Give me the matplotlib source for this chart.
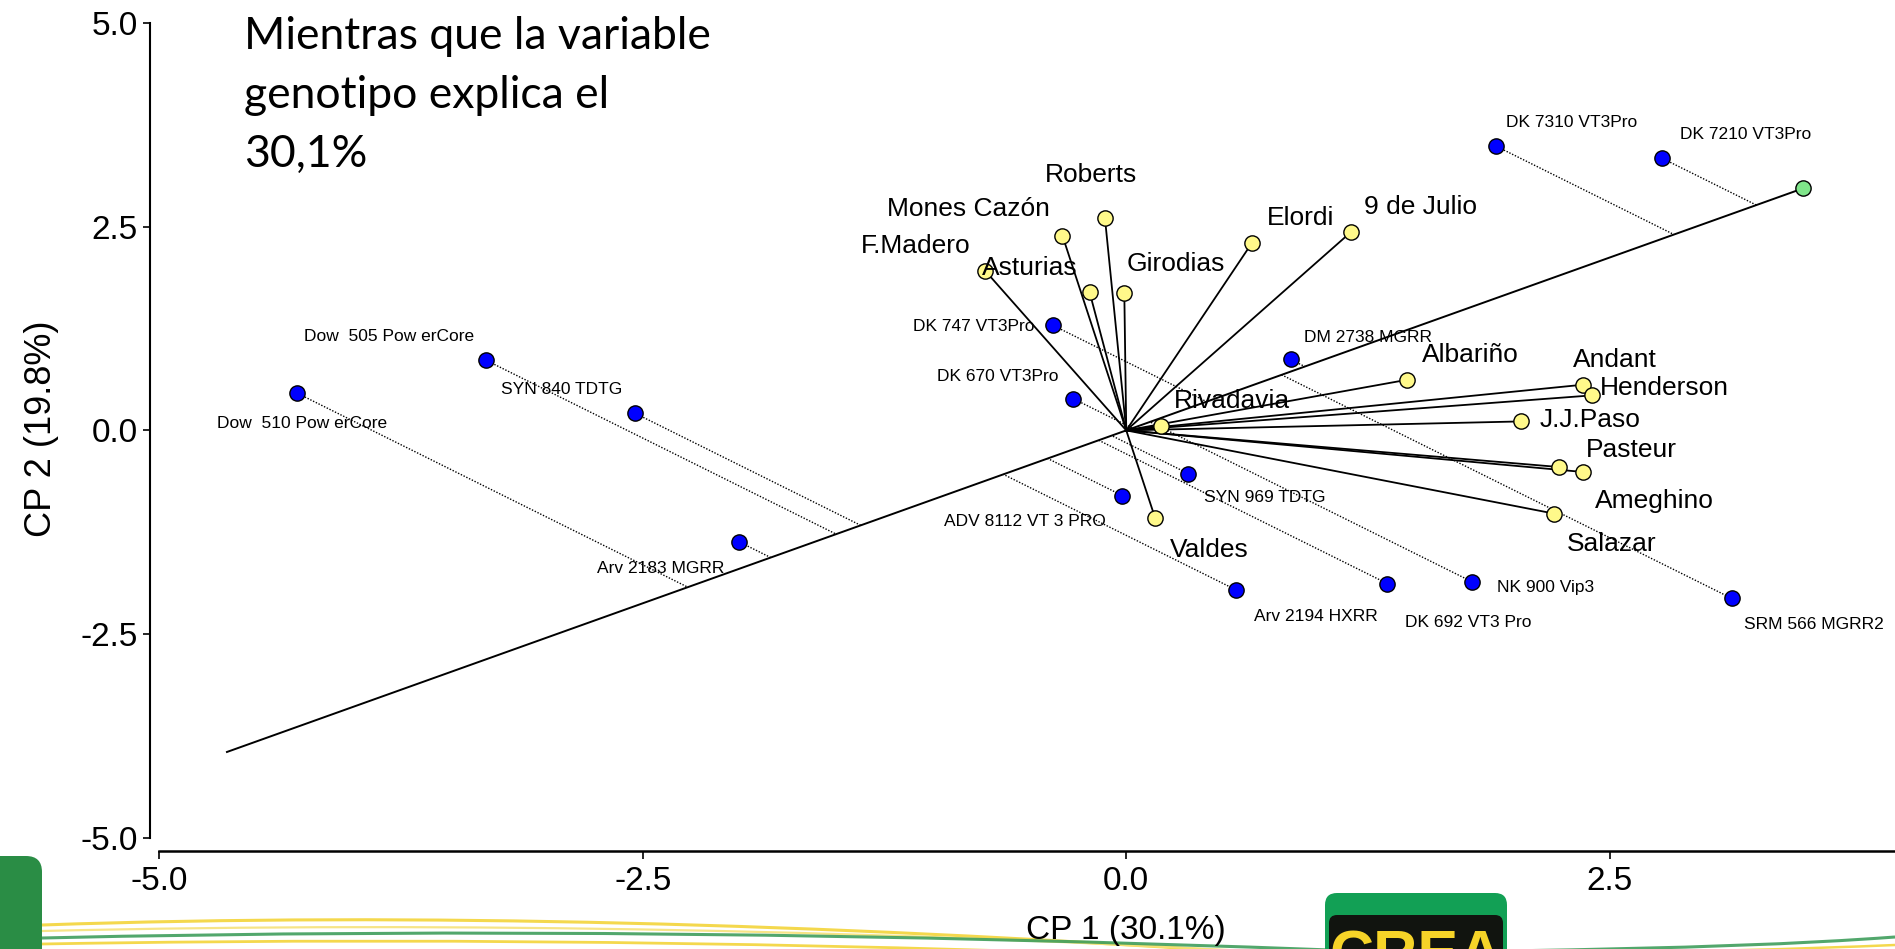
import matplotlib.pyplot as plt
from matplotlib import transforms
from matplotlib.patches import FancyBboxPatch, PathPatch
from matplotlib.path import Path

# --- environments (yellow points, vectors from origin) ---
env_names = ["Roberts", "Mones Cazón", "F.Madero", "Asturias", "Girodias", "Elordi",
             "9 de Julio", "Albariño", "Andant", "Henderson", "J.J.Paso", "Rivadavia",
             "Pasteur", "Ameghino", "Salazar", "Valdes"]
env_x = [-0.11, -0.33, -0.73, -0.19, -0.01, 0.65, 1.16, 1.45, 2.36, 2.41, 2.04, 0.18,
         2.24, 2.36, 2.21, 0.15]
env_y = [2.60, 2.39, 1.96, 1.70, 1.68, 2.30, 2.43, 0.62, 0.56, 0.43, 0.11, 0.06,
         -0.45, -0.51, -1.02, -1.08]
# label offsets (points)
env_dx = [-10, -68, -50, -43, 37, 35, 50, 46, 23, 52, 50, 51, 52, 52, 42, 39]
env_dy = [31, 19, 18, 17, 21, 18, 18, 18, 18, 5, 1, 18, 12, -21, -22, -23]

# --- genotypes (blue points, projected on the average-environment axis) ---
gen_names = ["DK 7310 VT3Pro", "DK 7210 VT3Pro", "Dow  505 Pow erCore", "Dow  510 Pow erCore",
             "SYN 840 TDTG", "Arv 2183 MGRR", "DK 747 VT3Pro", "DK 670 VT3Pro",
             "DM 2738 MGRR", "SYN 969 TDTG", "ADV 8112 VT 3 PRO", "Arv 2194 HXRR",
             "DK 692 VT3 Pro", "NK 900 Vip3", "SRM 566 MGRR2"]
gen_x = [1.91, 2.77, -3.31, -4.29, -2.54, -2.00, -0.38, -0.275, 0.85, 0.32, -0.02, 0.57,
         1.35, 1.79, 3.13]
gen_y = [3.49, 3.34, 0.86, 0.46, 0.21, -1.37, 1.29, 0.39, 0.87, -0.53, -0.80, -1.96,
         -1.88, -1.86, -2.06]
gen_dx = [55, 60, -70, 4, -53, -57, -57, -54, 56, 55, -70, 57, 58, 53, 59]
gen_dy = [17, 17, 17, -22, 17, -19, -1, 16, 16, -17, -19, -19, -28, -4, -19]

# average environment (green point) and far end of its axis
aec_x, aec_y = 3.50, 2.97
aec_x_low = -4.65

W, H = 1895, 949
plt.rcParams['font.family'] = ['Liberation Sans', 'DejaVu Sans']
fig = plt.figure(figsize=(W / 100, H / 100), dpi=100)

# decoration layer (pixel coordinates)
deco = fig.add_axes([0, 0, 1, 1])
deco.set_xlim(0, W)
deco.set_ylim(H, 0)
deco.axis('off')

swooshes = [
    ([(42, 925), (420, 912), (820, 924), (1240, 952)], '#F3D43A', 2.2),
    ([(42, 931), (460, 921), (900, 931), (1300, 954)], '#F6E27A', 1.6),
    ([(42, 938), (470, 928), (900, 934), (1330, 950)], '#3F9E5C', 2.2),
    ([(42, 944), (500, 936), (900, 946), (1220, 958)], '#F3D43A', 2.0),
    ([(1505, 951), (1690, 948), (1800, 944), (1895, 937)], '#3F9E5C', 2.2),
    ([(1505, 955), (1690, 952), (1800, 949), (1895, 945)], '#F3D43A', 1.8),
]
for pts, col, lw in swooshes:
    path = Path(pts, [Path.MOVETO, Path.CURVE4, Path.CURVE4, Path.CURVE4])
    deco.add_patch(PathPatch(path, facecolor='none', edgecolor=col, lw=lw, alpha=0.9))

deco.add_patch(FancyBboxPatch((-30, 856), 72, 120, boxstyle='round,pad=0,rounding_size=16',
                              facecolor='#2A8D45', edgecolor='none'))
deco.add_patch(FancyBboxPatch((1325, 893), 182, 90, boxstyle='round,pad=0,rounding_size=12',
                              facecolor='#12A055', edgecolor='none'))
deco.add_patch(FancyBboxPatch((1329, 915), 174, 70, boxstyle='round,pad=0,rounding_size=8',
                              facecolor='#11140F', edgecolor='none'))
# logo lettering runs off the bottom of the slide, as in the original
deco.text(1416, 929, 'CREA', color='#F6D428', fontsize=44, fontweight='bold',
          ha='center', va='top', clip_on=True)

# main chart
ax = fig.add_axes([150 / W, (H - 851) / H, (W - 150) / W, 851 / H])
ax.set_facecolor('none')
ax.set_xlim(-5.048, 3.975)
ax.set_ylim(-5.161, 5.281)

k = aec_y / aec_x
ax.plot([aec_x_low, aec_x], [k * aec_x_low, aec_y], color='black', lw=1.4, zorder=2)

for x, y in zip(gen_x, gen_y):
    t = (x + k * y) / (1 + k * k)
    ax.plot([x, t], [y, k * t], color='black', lw=1.0, ls=(0, (1, 1.2)), zorder=2)

for x, y in zip(env_x, env_y):
    ax.plot([0, x], [0, y], color='black', lw=1.3, zorder=2)

ax.plot(gen_x, gen_y, 'o', ms=11, mfc='#0000FF', mec='black', mew=1, zorder=4)
ax.plot(env_x, env_y, 'o', ms=11, mfc='#FFF98A', mec='black', mew=1, zorder=4)
ax.plot([aec_x], [aec_y], 'o', ms=11, mfc='#7FE58A', mec='black', mew=1, zorder=4)

for name, x, y, dx, dy in zip(env_names, env_x, env_y, env_dx, env_dy):
    ax.annotate(name, (x, y), xytext=(dx, dy), textcoords='offset points',
                ha='center', va='center', fontsize=19, zorder=5)
for name, x, y, dx, dy in zip(gen_names, gen_x, gen_y, gen_dx, gen_dy):
    ax.annotate(name, (x, y), xytext=(dx, dy), textcoords='offset points',
                ha='center', va='center', fontsize=12.5, zorder=5)

for s in ['top', 'right']:
    ax.spines[s].set_visible(False)
ax.spines['left'].set_bounds(-5, 5)
ax.spines['bottom'].set_bounds(-5, 3.975)
ax.spines['left'].set_linewidth(1.5)
ax.spines['bottom'].set_linewidth(1.8)
ax.set_xticks([-5, -2.5, 0, 2.5])
ax.set_xticklabels(['-5.0', '-2.5', '0.0', '2.5'])
ax.set_yticks([-5, -2.5, 0, 2.5, 5])
ax.set_yticklabels(['-5.0', '-2.5', '0.0', '2.5', '5.0'])
ax.tick_params(axis='x', length=6, width=1.2, pad=5, labelsize=24)
ax.tick_params(axis='y', length=5, width=1.2, pad=4, labelsize=24)

blend = transforms.blended_transform_factory(ax.transData, fig.transFigure)
ax.text(0, 1 - 930 / H, 'CP 1 (30.1%)', transform=blend, ha='center', va='center', fontsize=24)
fig.text(42 / W, 1 - 429 / H, 'CP 2 (19.8%)', rotation=90, ha='center', va='center', fontsize=26)

# slide text
title_lines = ["Mientras que la variable", "genotipo explica el", "30,1%"]
for i, line in enumerate(title_lines):
    fig.text(244 / W, 1 - (49 + 59 * i) / H, line, family='Lato', fontsize=32,
             ha='left', va='baseline')

fig.savefig('out.png', dpi=100)
